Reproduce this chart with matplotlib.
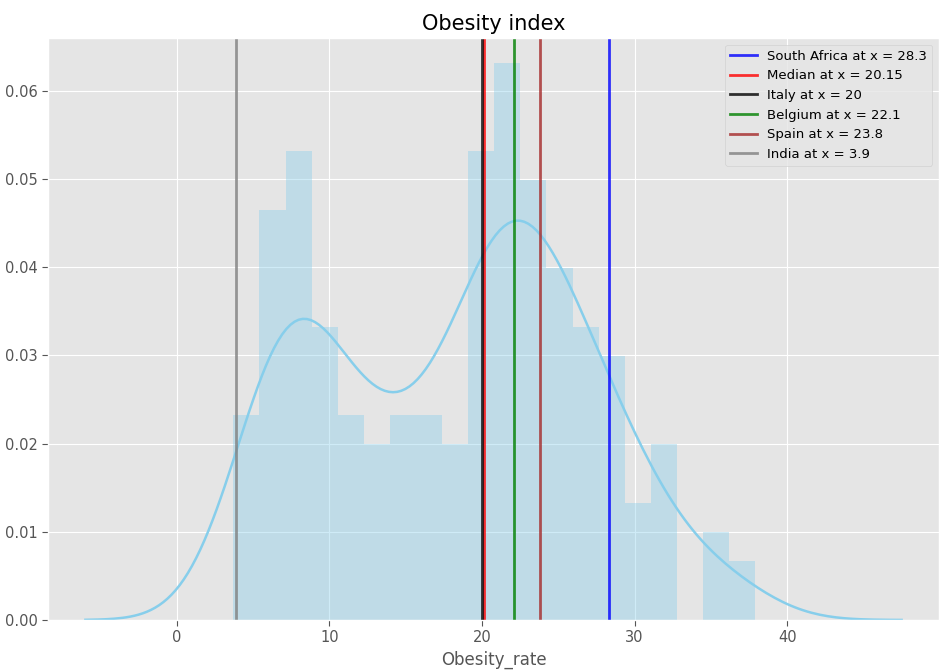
import numpy as np
import matplotlib
matplotlib.use('Agg')
import matplotlib.pyplot as plt

plt.style.use('ggplot')

# histogram of obesity rate (counts per bin)
bin_edges = np.linspace(3.7, 37.9, 21)
bin_counts = np.array([7, 14, 16, 10, 7, 6, 7, 7, 6, 16,
                       19, 15, 12, 10, 9, 4, 6, 0, 3, 2])

# reference markers
countries = ['South Africa', 'Median', 'Italy', 'Belgium', 'Spain', 'India']
values = [28.3, 20.15, 20, 22.1, 23.8, 3.9]
line_colors = ['blue', 'red', 'black', 'green', 'brown', 'grey']

fig = plt.figure(figsize=(9.52, 6.70), dpi=100)
ax = fig.add_axes([48/952, 50/670, 891/952, 582/670])

centers = 0.5*(bin_edges[:-1] + bin_edges[1:])
ax.hist(centers, bins=bin_edges, weights=bin_counts, density=True,
        color='skyblue', alpha=0.4)

# gaussian kde from the binned counts
bw = 3.1
xs = np.linspace(-6, 47.5, 200)
dens = (bin_counts[None, :] * np.exp(-0.5*((xs[:, None] - centers[None, :])/bw)**2)).sum(axis=1)
dens = dens / (bin_counts.sum() * bw * np.sqrt(2*np.pi))
ax.plot(xs, dens, color='skyblue', lw=1.8)

for name, v, c in zip(countries, values, line_colors):
    ax.axvline(v, color=c, lw=2, alpha=0.8, label='%s at x = %s' % (name, v))

ax.set_xlim(-8.45, 49.95)
ax.set_ylim(0, 0.066)
ax.set_yticks([0, 0.01, 0.02, 0.03, 0.04, 0.05, 0.06])
ax.set_yticklabels(['%.2f' % t for t in ax.get_yticks()])
ax.tick_params(labelsize=10.5, colors='#555555', length=4, direction='out')
ax.set_title('Obesity index', fontsize=15, pad=6)
ax.set_xlabel('Obesity_rate', fontsize=12, color='#555555')
leg = ax.legend(loc='upper right', fontsize=9.5)

fig.savefig('out.png', dpi=100)
